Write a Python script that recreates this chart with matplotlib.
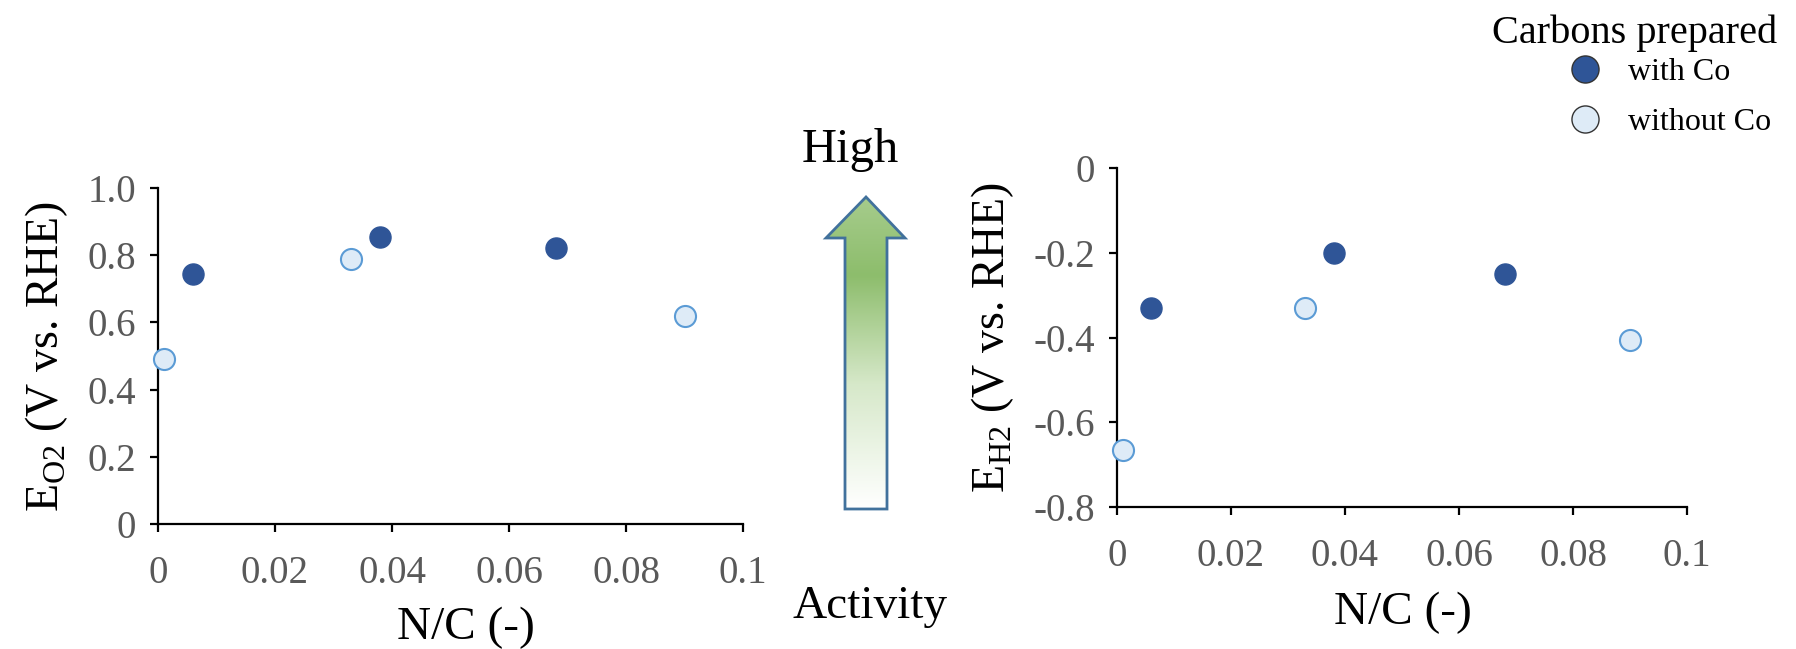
import numpy as np
import matplotlib
matplotlib.use("Agg")
import matplotlib.pyplot as plt
from matplotlib.patches import Polygon
from matplotlib.lines import Line2D
from matplotlib.colors import LinearSegmentedColormap

plt.rcParams['font.family'] = ['Liberation Serif', 'DejaVu Serif']
plt.rcParams['mathtext.fontset'] = 'custom'
plt.rcParams['mathtext.rm'] = 'Liberation Serif'

# N/C ratio of each carbon
nc_co = [0.006, 0.038, 0.068]
nc_noco = [0.001, 0.033, 0.090]
# onset potentials, O2 reduction
eo2_co = [0.745, 0.855, 0.82]
eo2_noco = [0.49, 0.79, 0.62]
# onset potentials, H2 evolution
eh2_co = [-0.33, -0.20, -0.25]
eh2_noco = [-0.665, -0.33, -0.405]

xticks = [0, 0.02, 0.04, 0.06, 0.08, 0.1]
xticklabels = ['0', '0.02', '0.04', '0.06', '0.08', '0.1']

dark = '#2f5597'
light = '#deebf7'
light_edge = '#5b9bd5'
grey = '#595959'

W, H = 1796, 649
fig = plt.figure(figsize=(W / 100, H / 100), dpi=100)
ax1 = fig.add_axes([158 / W, 1 - 524 / H, 585 / W, 336 / H])
ax2 = fig.add_axes([1117 / W, 1 - 507 / H, 570 / W, 339 / H])


def style(ax, label_x, label_y):
    for s in ['top', 'right']:
        ax.spines[s].set_visible(False)
    for s in ['left', 'bottom']:
        ax.spines[s].set_linewidth(1.6)
    ax.tick_params(direction='out', length=6, width=1.6, labelsize=28,
                   labelcolor=grey)
    ax.tick_params(axis='x', pad=16)
    ax.tick_params(axis='y', pad=10)
    ax.set_xlim(0, 0.1)
    ax.set_xticks(xticks)
    ax.set_xticklabels(xticklabels)
    ax.set_xlabel('N/C (-)', fontsize=34)
    ax.xaxis.set_label_coords(label_x, label_y)
    ax.xaxis.label.set_va('center')


ax1.scatter(nc_co, eo2_co, s=230, c=dark, edgecolors=dark, zorder=3)
ax1.scatter(nc_noco, eo2_noco, s=230, c=light, edgecolors=light_edge,
            linewidths=1.5, zorder=3, clip_on=False)
ax1.set_ylim(0, 1.0)
ax1.set_yticks([0, 0.2, 0.4, 0.6, 0.8, 1.0])
ax1.set_yticklabels(['0', '0.2', '0.4', '0.6', '0.8', '1.0'])
ax1.set_ylabel('E$_{\\mathregular{O2}}$ (V vs. RHE)', fontsize=33, labelpad=12)
style(ax1, 0.526, -0.31)

ax2.scatter(nc_co, eh2_co, s=230, c=dark, edgecolors=dark, zorder=3)
ax2.scatter(nc_noco, eh2_noco, s=230, c=light, edgecolors=light_edge,
            linewidths=1.5, zorder=3, clip_on=False)
ax2.set_ylim(-0.8, 0)
ax2.set_yticks([-0.8, -0.6, -0.4, -0.2, 0])
ax2.set_yticklabels(['-0.8', '-0.6', '-0.4', '-0.2', '0'])
ax2.set_ylabel('E$_{\\mathregular{H2}}$ (V vs. RHE)', fontsize=33, labelpad=12)
style(ax2, 0.502, -0.313)

# overlay in pixel coords for the activity arrow
ov = fig.add_axes([0, 0, 1, 1], zorder=-1)
ov.axis('off')

tip, head_y, bottom = 197, 238, 509
hx0, hx1, sx0, sx1, cx = 826, 905, 845, 887, 866
arrow_pts = [(cx, tip), (hx1, head_y), (sx1, head_y), (sx1, bottom),
             (sx0, bottom), (sx0, head_y), (hx0, head_y)]
cmap = LinearSegmentedColormap.from_list(
    'act', [(0, '#a6cc8c'), (0.25, '#8dbd6c'), (0.6, '#d6e8c9'), (1.0, '#ffffff')])
grad = np.linspace(0, 1, 256).reshape(-1, 1)
im = ov.imshow(grad, cmap=cmap, extent=[hx0, hx1, bottom, tip], aspect='auto')
outline = Polygon(arrow_pts, closed=True, facecolor='none', edgecolor='#41719c',
                  linewidth=2)
ov.add_patch(outline)
im.set_clip_path(outline)
ov.set_xlim(0, W)
ov.set_ylim(H, 0)
ov.text(850, 162, 'High', fontsize=35, ha='center', va='baseline')
ov.text(870, 618, 'Activity', fontsize=34, ha='center', va='baseline')

# legend
ov.text(1777, 43, 'Carbons prepared', fontsize=29, ha='right', va='baseline')
handles = [Line2D([], [], ls='', marker='o', ms=19.5, mfc=dark, mec='#333333', mew=1),
           Line2D([], [], ls='', marker='o', ms=19.5, mfc=light, mec='#333333', mew=1)]
leg = fig.legend(handles, ['with Co', 'without Co'], loc='upper left',
                 bbox_to_anchor=(1561 / W, 1 - 58 / H), frameon=False,
                 fontsize=23, handlelength=1.5, handletextpad=0.6,
                 labelspacing=0.65, borderpad=0, borderaxespad=0)

fig.savefig('out.png', dpi=100)
